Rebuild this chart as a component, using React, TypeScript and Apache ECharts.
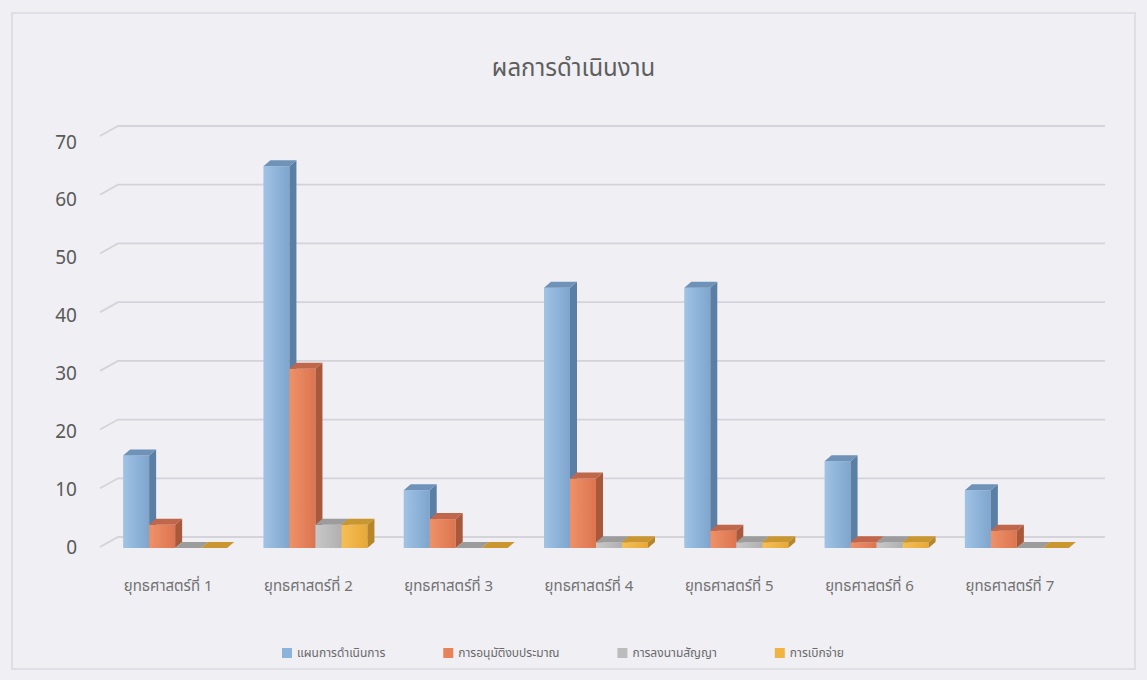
import React, { useEffect, useRef } from "react";
import * as echarts from "echarts";

const categories = [
  "ยุทธศาสตร์ที่ 1",
  "ยุทธศาสตร์ที่ 2",
  "ยุทธศาสตร์ที่ 3",
  "ยุทธศาสตร์ที่ 4",
  "ยุทธศาสตร์ที่ 5",
  "ยุทธศาสตร์ที่ 6",
  "ยุทธศาสตร์ที่ 7",
];
const seriesNames = ["แผนการดำเนินการ", "การอนุมัติงบประมาณ", "การลงนามสัญญา", "การเบิกจ่าย"];
const planValues = [16, 66, 10, 45, 45, 15, 10];
const approveValues = [4, 31, 5, 12, 3, 1, 3];
const signValues = [0, 4, 0, 1, 1, 1, 0];
const payValues = [0, 4, 0, 1, 1, 1, 0];
const yTicks = [0, 10, 20, 30, 40, 50, 60, 70];

const FONT = "'Noto Sans Thai', 'Noto Sans', 'DejaVu Sans', sans-serif";

const palette = [
  { front: ["#a0c3e5", "#7ea5cd"], side: "#5b7ea4", top: "#6f92b8", legend: "#8bb3db" },
  { front: ["#ee9169", "#dc7550"], side: "#a9583a", top: "#c0664a", legend: "#e8825a" },
  { front: ["#c8c8c8", "#b0b0b0"], side: "#8c8c8c", top: "#9c9c9c", legend: "#bcbcbc" },
  { front: ["#f4bf57", "#e8a836"], side: "#b7852a", top: "#c9962f", legend: "#f0b441" },
];

const BAR_W = 26;
const DX = 7;
const DY = 6;
const SHIFT = 7;

export default function App() {
  const ref = useRef<HTMLDivElement>(null);
  useEffect(() => {
    if (!ref.current) return;
    const chart = echarts.init(ref.current, undefined, { renderer: "svg" });
    const allValues = [planValues, approveValues, signValues, payValues];

    const barSeries = allValues.map((vals, s) => ({
      type: "custom",
      name: seriesNames[s],
      xAxisIndex: 0,
      yAxisIndex: 0,
      z: 10 + s,
      itemStyle: { color: palette[s].legend },
      data: vals.map((v, i) => [i, v]),
      encode: { x: 0, y: 1 },
      renderItem: (params: any, api: any) => {
        const c = api.value(0);
        const v = api.value(1);
        const base = api.coord([c, 0]);
        const top = api.coord([c, v]);
        const x = base[0] - 2 * BAR_W + SHIFT + s * BAR_W;
        const yT = top[1];
        const yB = base[1];
        const p = palette[s];
        return {
          type: "group",
          children: [
            {
              type: "rect",
              shape: { x, y: yT, width: BAR_W, height: Math.max(0, yB - yT) },
              style: {
                fill: new echarts.graphic.LinearGradient(0, 0, 1, 0, [
                  { offset: 0, color: p.front[0] },
                  { offset: 1, color: p.front[1] },
                ]),
              },
            },
            {
              type: "polygon",
              shape: {
                points: [
                  [x + BAR_W, yT],
                  [x + BAR_W + DX, yT - DY],
                  [x + BAR_W + DX, yB - DY],
                  [x + BAR_W, yB],
                ],
              },
              style: { fill: p.side },
            },
            {
              type: "polygon",
              shape: {
                points: [
                  [x, yT],
                  [x + DX, yT - DY],
                  [x + BAR_W + DX, yT - DY],
                  [x + BAR_W, yT],
                ],
              },
              style: { fill: p.top },
            },
          ],
        };
      },
    }));

    const wallSeries = {
      type: "custom",
      name: "wall",
      xAxisIndex: 1,
      yAxisIndex: 1,
      z: 1,
      silent: true,
      data: yTicks.map((v) => [0, v]),
      encode: { x: 0, y: 1 },
      renderItem: (params: any, api: any) => {
        const v = api.value(1);
        const p = api.coord([0, v]);
        const q = api.coord([1, v]);
        return {
          type: "polyline",
          shape: { points: [[p[0] - 18, p[1] + 10], p, q] },
          style: { stroke: "#d3d3d9", lineWidth: 1.8, fill: "none" },
        };
      },
    };

    chart.setOption({
      animation: false,
      backgroundColor: "#efeff4",
      textStyle: { fontFamily: FONT },
      title: {
        text: "ผลการดำเนินงาน",
        left: "center",
        top: 52,
        textStyle: { fontFamily: FONT, fontSize: 24, fontWeight: "normal", color: "#5e5e5e" },
      },
      legend: {
        data: seriesNames,
        left: 277,
        top: 642,
        icon: "rect",
        itemWidth: 10,
        itemHeight: 10,
        itemGap: 58,
        textStyle: { fontFamily: FONT, fontSize: 12, color: "#6a6a6a" },
      },
      graphic: [
        {
          type: "rect",
          shape: { x: 12, y: 13, width: 1123, height: 656 },
          style: { fill: "none", stroke: "#d9d9de", lineWidth: 1.5 },
          z: 0,
        },
      ],
      grid: [
        { left: 98, right: 67, top: 143, bottom: 132 },
        { left: 118, right: 42, top: 126, bottom: 143 },
      ],
      xAxis: [
        {
          type: "category",
          gridIndex: 0,
          data: categories,
          axisLine: { show: false },
          axisTick: { show: false },
          axisLabel: { margin: 31, fontSize: 15, color: "#727272", fontFamily: FONT },
        },
        { type: "value", gridIndex: 1, min: 0, max: 1, show: false },
      ],
      yAxis: [
        {
          type: "value",
          gridIndex: 0,
          min: 0,
          max: 70,
          interval: 10,
          axisLine: { show: false },
          axisTick: { show: false },
          splitLine: { show: false },
          axisLabel: { margin: 21, fontSize: 19, color: "#5a5a5a", fontFamily: FONT },
        },
        { type: "value", gridIndex: 1, min: 0, max: 70, interval: 10, show: false },
      ],
      series: [wallSeries, ...barSeries],
    });
    return () => chart.dispose();
  }, []);
  return (
    <div
      ref={ref}
      style={{ position: "fixed", left: 0, top: 0, width: 1147, height: 680 }}
    />
  );
}
